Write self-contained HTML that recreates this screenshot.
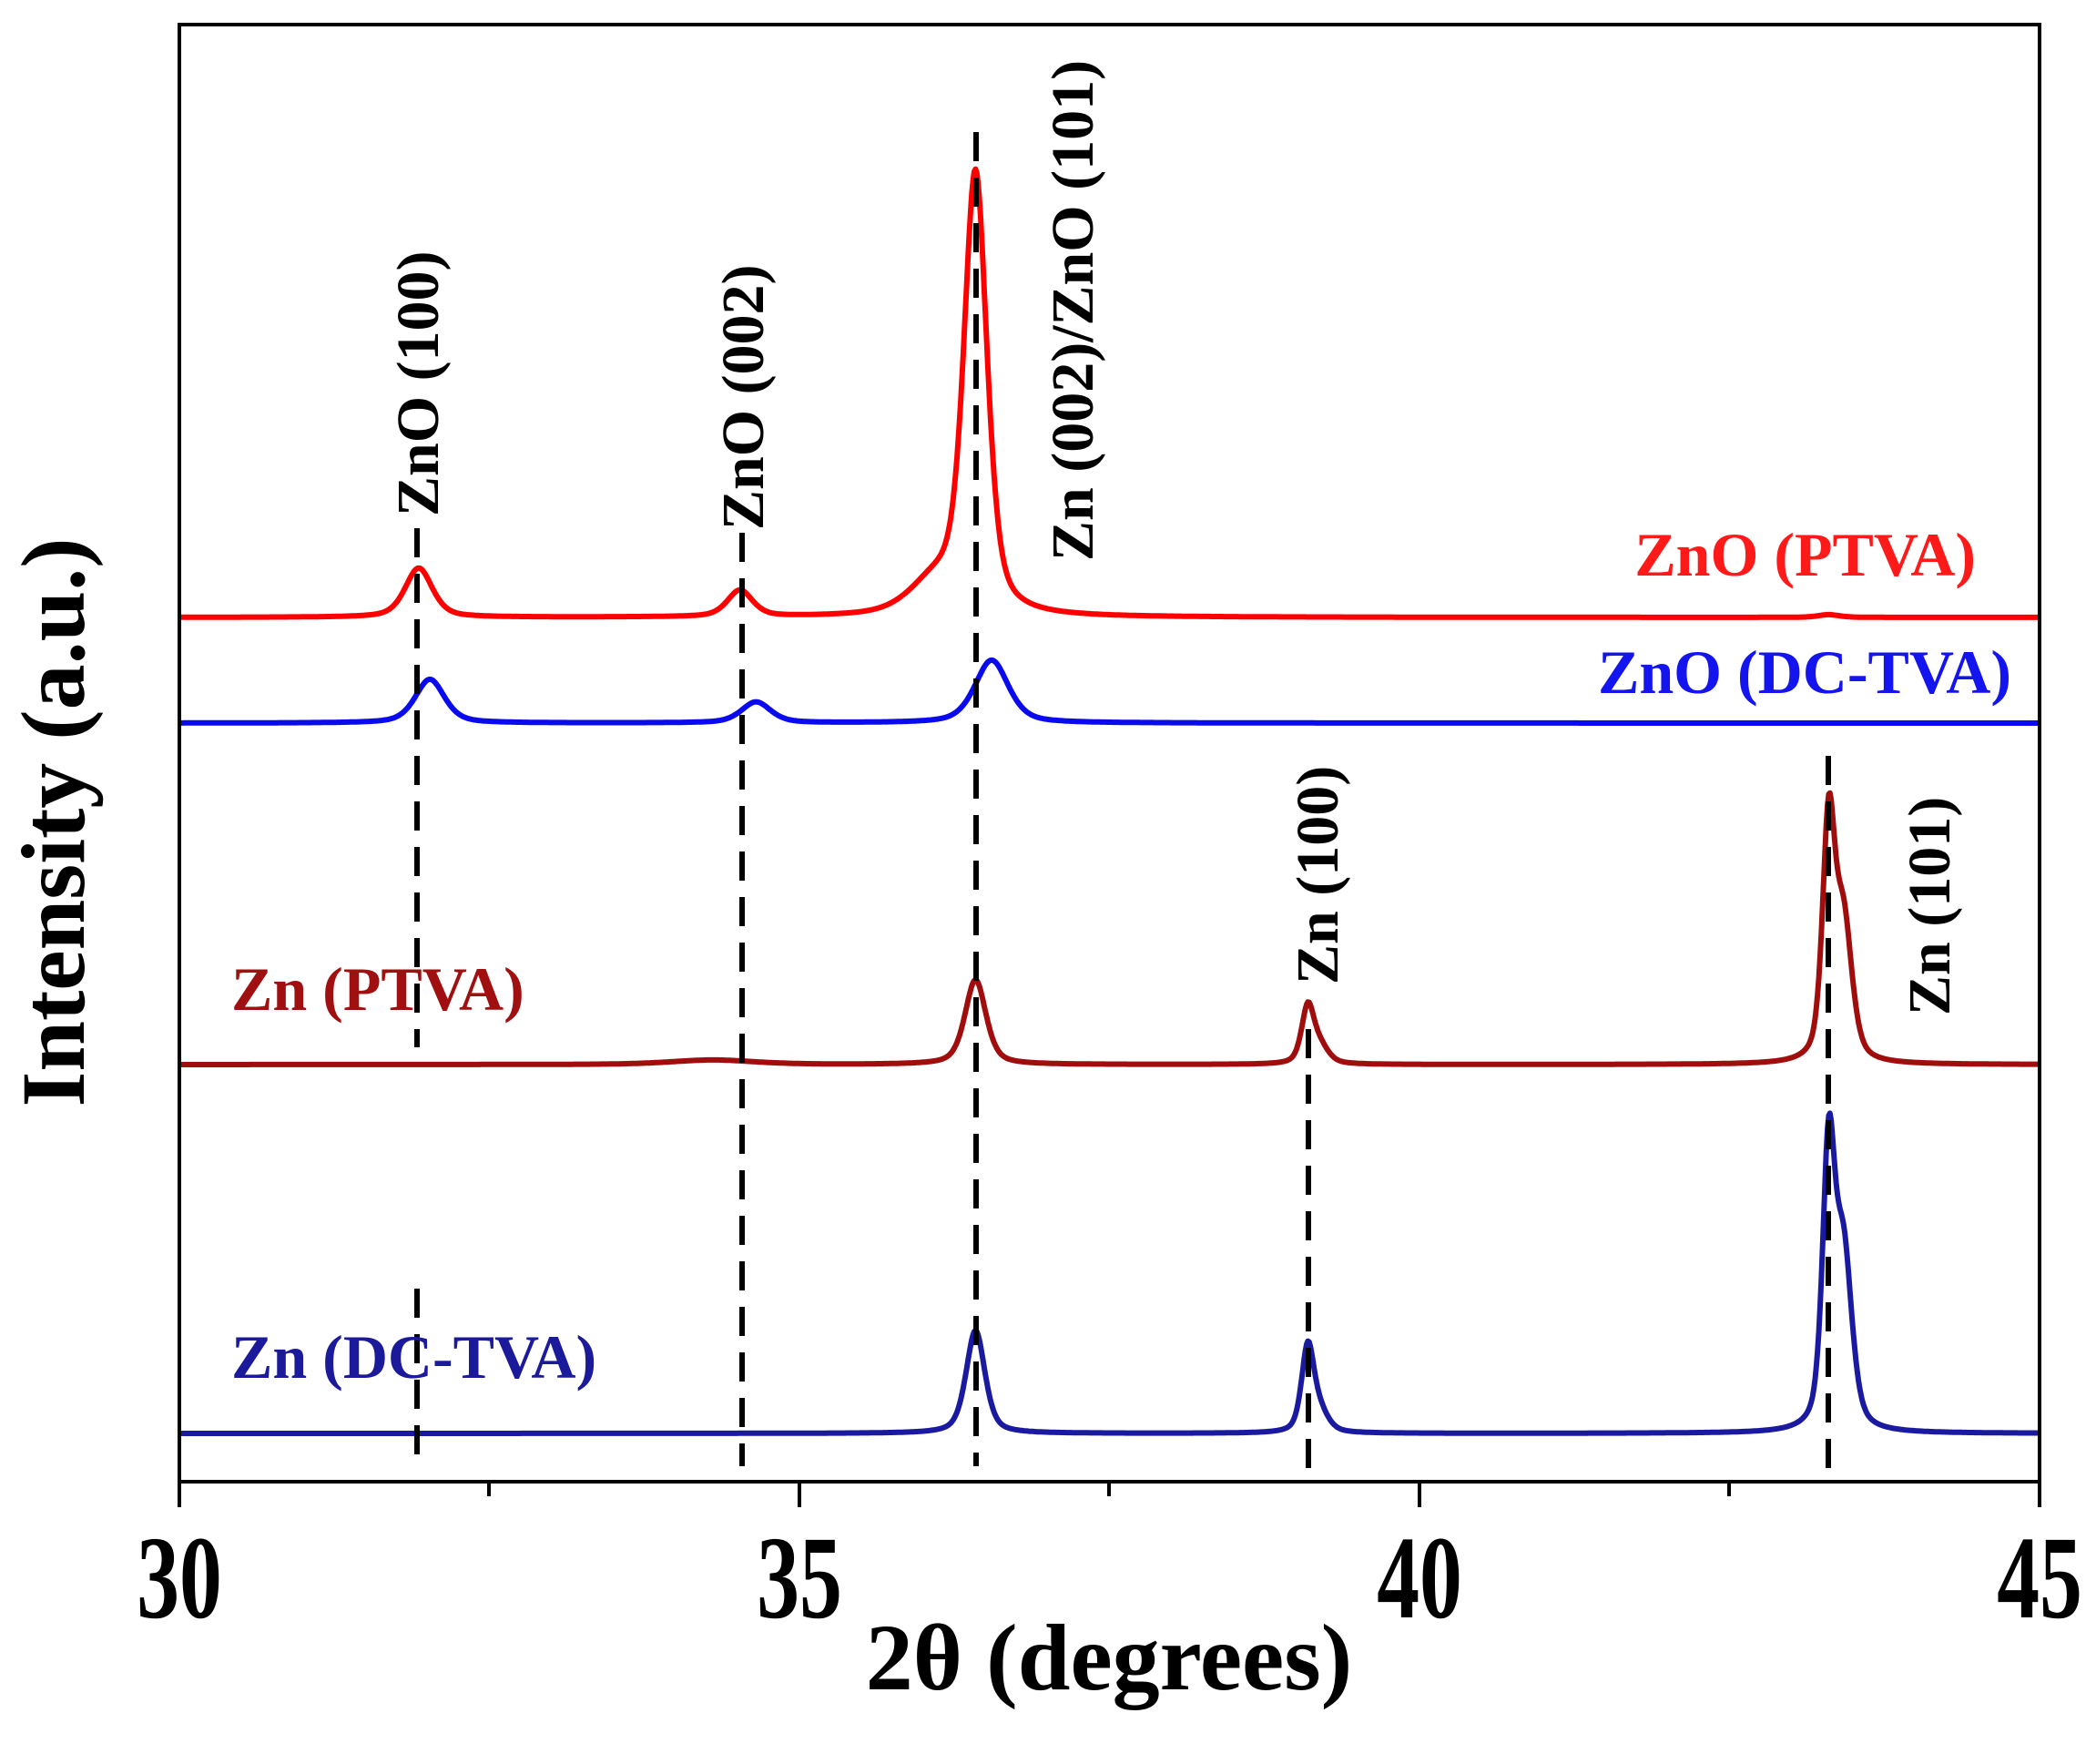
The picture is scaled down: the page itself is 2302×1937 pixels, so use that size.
<!DOCTYPE html>
<html><head><meta charset="utf-8"><style>
html,body{margin:0;padding:0;background:#fff}
svg{display:block}
text{font-family:"Liberation Serif",serif;font-weight:bold}
</style></head><body>
<svg id="s" width="2302" height="1937" viewBox="0 0 2302 1937" xmlns="http://www.w3.org/2000/svg">
<g id="curves" fill="none" stroke-width="6" stroke-linejoin="round"></g>
<g stroke="#000" stroke-width="6" stroke-dasharray="32,18">
<line x1="458" y1="580" x2="458" y2="1150"/>
<line x1="458" y1="1415" x2="458" y2="1610"/>
<line x1="815" y1="585" x2="815" y2="1610"/>
<line x1="1072" y1="145" x2="1072" y2="1610"/>
<line x1="1437" y1="1130" x2="1437" y2="1627"/>
<line x1="2008" y1="830" x2="2008" y2="1627"/>
</g>
<rect x="197" y="27" width="2043" height="1600" fill="none" stroke="#000" stroke-width="4"/>
<g stroke="#000" stroke-width="4">
<line x1="197" y1="1627" x2="197" y2="1655"/>
<line x1="878" y1="1627" x2="878" y2="1655"/>
<line x1="1559" y1="1627" x2="1559" y2="1655"/>
<line x1="2240" y1="1627" x2="2240" y2="1655"/>
<line x1="537" y1="1627" x2="537" y2="1643"/>
<line x1="1218" y1="1627" x2="1218" y2="1643"/>
<line x1="1899" y1="1627" x2="1899" y2="1643"/>
</g>
<g font-size="130" text-anchor="middle">
<text transform="translate(197,1776) scale(0.72,1)">30</text>
<text transform="translate(878,1776) scale(0.72,1)">35</text>
<text transform="translate(1559,1776) scale(0.72,1)">40</text>
<text transform="translate(2240,1776) scale(0.72,1)">45</text>
</g>
<text x="1218" y="1855" font-size="104" text-anchor="middle">2θ (degrees)</text>
<text transform="translate(92,903) rotate(-90)" font-size="100" text-anchor="middle">Intensity (a.u.)</text>
<g font-size="66">
<text transform="translate(481,567) rotate(-90)">ZnO (100)</text>
<text transform="translate(838,582) rotate(-90)">ZnO (002)</text>
<text transform="translate(1200,616) rotate(-90)">Zn (002)/ZnO (101)</text>
<text transform="translate(1469,1081) rotate(-90)">Zn (100)</text>
<text transform="translate(2141,1115) rotate(-90)">Zn (101)</text>
</g>
<g font-size="68">
<text x="2170" y="632" text-anchor="end" fill="#ff1a1a">ZnO (PTVA)</text>
<text x="2209" y="761" text-anchor="end" fill="#1414ee">ZnO (DC-TVA)</text>
<text x="254" y="1109" fill="#a01010">Zn (PTVA)</text>
<text x="254" y="1513" fill="#1a1a9a">Zn (DC-TVA)</text>
</g>
</svg>
<script>
var X=function(t){return 197+(t-30)*136.2;};
function pv(x,c,w){var d=(x-c)/w;var L=1/(1+d*d);var G=Math.exp(-0.693*d*d);return 0.5*L+0.5*G;}
var series=[
 {col:"#ff0000",base:678,p:[[31.93,54,0.13],[34.52,29,0.12],[36.42,480,0.11],[36.1,35,0.25],[43.3,3,0.1]]},
 {col:"#0a0aee",base:794,p:[[32.02,48,0.14],[34.65,23,0.14],[36.55,69,0.16]]},
 {col:"#a00d0d",base:1169,p:[[34.3,5,0.4],[36.42,93,0.1],[39.1,62,0.06],[39.2,18,0.08],[43.3,258,0.06],[43.42,150,0.08]]},
 {col:"#1a1aa0",base:1574,p:[[36.42,113,0.09],[39.1,94,0.06],[39.2,20,0.08],[43.3,300,0.06],[43.42,190,0.08]]}
];
var g=document.getElementById("curves");
series.forEach(function(s){
 var d="";
 for(var t=30;t<=45.0001;t+=0.01){
  var y=s.base;
  s.p.forEach(function(p){y-=p[1]*pv(t,p[0],p[2]);});
  d+=(d?"L":"M")+X(t).toFixed(1)+" "+y.toFixed(1);
 }
 var e=document.createElementNS("http://www.w3.org/2000/svg","path");
 e.setAttribute("d",d);e.setAttribute("stroke",s.col);g.appendChild(e);
});
</script>
</body></html>
